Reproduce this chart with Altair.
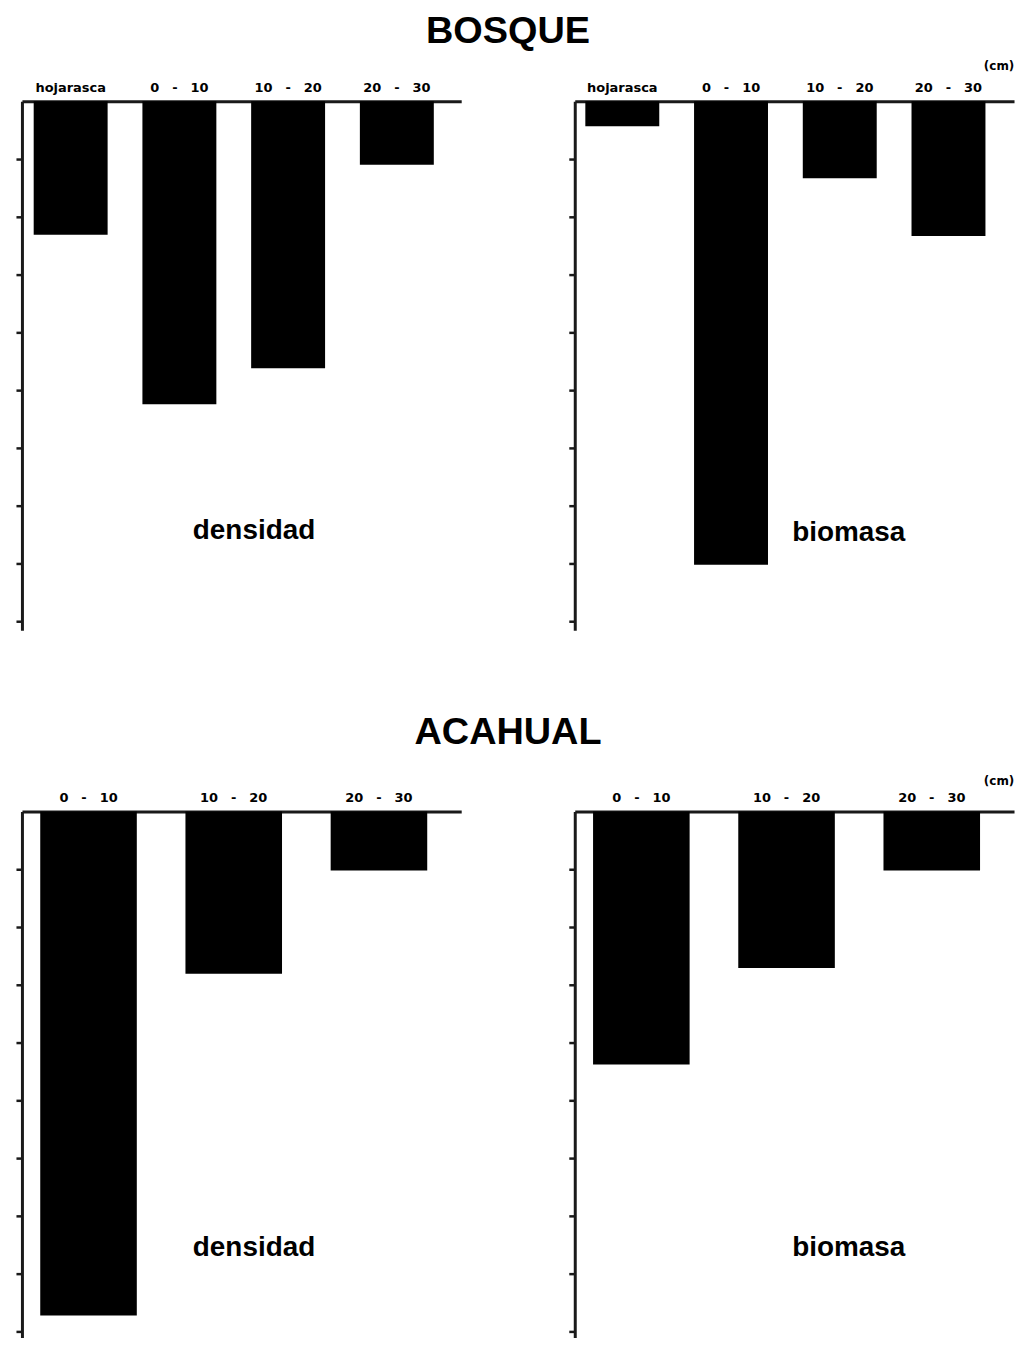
import altair as alt
import pandas as pd

# ---- data (units = tick intervals) ----
cats_bosque = ["hojarasca", "0 - 10", "10 - 20", "20 - 30"]
bosque_densidad = [2.31, 5.24, 4.62, 1.10]
bosque_biomasa = [0.43, 8.02, 1.33, 2.33]

cats_acahual = ["0 - 10", "10 - 20", "20 - 30"]
acahual_densidad = [8.72, 2.81, 1.02]
acahual_biomasa = [4.38, 2.71, 1.02]

section_titles = ["BOSQUE", "ACAHUAL"]
panel_labels = ["densidad", "biomasa"]
unit_label = "(cm)"
tick_values = [1, 2, 3, 4, 5, 6, 7, 8, 9]

W = 441
LINE = "#1a1a1a"


def panel(cats, vals, label, height, ymax, p_in, p_out, align, label_xy,
          title=None, title_xy=None, unit_xy=None):
    df = pd.DataFrame({"cat": cats, "val": vals})
    bars = alt.Chart(df).mark_bar(color="black").encode(
        x=alt.X(
            "cat:N", sort=cats, title=None,
            scale=alt.Scale(paddingInner=p_in, paddingOuter=p_out, align=align),
            axis=alt.Axis(
                orient="top", ticks=False, labelAngle=0,
                labelFont="DejaVu Sans", labelFontWeight="bold",
                labelFontSize=13, labelColor="black", labelPadding=7,
                domainWidth=3, domainColor=LINE,
                labelExpr="replace(datum.label, ' - ', '\u2003-\u2003')",
            ),
        ),
        y=alt.Y(
            "val:Q", title=None,
            scale=alt.Scale(domain=[0, ymax], reverse=True, nice=False, zero=True),
            axis=alt.Axis(
                values=tick_values, labels=False, grid=False,
                tickSize=6, tickWidth=2.5, tickColor=LINE,
                domainWidth=3, domainColor=LINE,
            ),
        ),
    )
    layers = [bars]
    layers.append(
        alt.Chart(pd.DataFrame({"t": [label]})).mark_text(
            font="Liberation Sans", fontWeight="bold", fontSize=28,
            color="black", align="center", baseline="middle",
        ).encode(text="t:N", x=alt.value(label_xy[0]), y=alt.value(label_xy[1]))
    )
    if title is not None:
        layers.append(
            alt.Chart(pd.DataFrame({"t": [title]})).mark_text(
                font="Liberation Sans", fontWeight="bold", fontSize=38,
                color="black", align="center", baseline="middle",
            ).encode(text="t:N", x=alt.value(title_xy[0]), y=alt.value(title_xy[1]))
        )
    if unit_xy is not None:
        layers.append(
            alt.Chart(pd.DataFrame({"t": [unit_label]})).mark_text(
                font="DejaVu Sans", fontWeight="bold", fontSize=12,
                color="black", align="center", baseline="middle",
            ).encode(text="t:N", x=alt.value(unit_xy[0]), y=alt.value(unit_xy[1]))
        )
    return alt.layer(*layers).properties(width=W, height=height)


tl = panel(cats_bosque, bosque_densidad, panel_labels[0], 531, 9.15,
           0.32, 0.18, 0.3, (233, 431),
           title=section_titles[0], title_xy=(488, -70))
tr = panel(cats_bosque, bosque_biomasa, panel_labels[1], 531, 9.15,
           0.32, 0.18, 0.27, (275, 433), unit_xy=(426, -35))
bl = panel(cats_acahual, acahual_densidad, panel_labels[0], 528, 9.1,
           0.335, 0.18, 0.35, (233, 438),
           title=section_titles[1], title_xy=(488, -79))
br = panel(cats_acahual, acahual_biomasa, panel_labels[1], 528, 9.1,
           0.335, 0.18, 0.35, (275, 438), unit_xy=(426, -31))

chart = alt.concat(
    tl, tr, bl, br, columns=2,
    spacing=alt.RowColnumber(row=182, column=114),
    bounds="flush",
).properties(
    padding={"left": 6, "top": 2, "right": 5, "bottom": 5},
    background="white",
).configure_view(stroke=None)

chart.save("out.html", embed_options={"renderer": "svg", "actions": False})
